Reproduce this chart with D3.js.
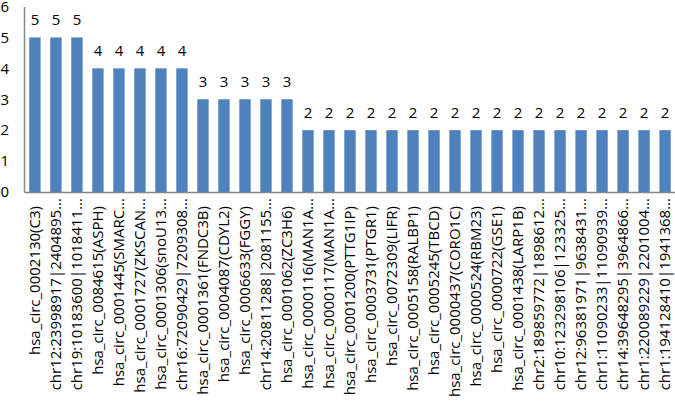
<!DOCTYPE html>
<html>
<head>
<meta charset="utf-8">
<script src="https://cdn.jsdelivr.net/npm/d3@7"></script>
<style>
  html, body { margin: 0; padding: 0; background: #fff; }
  svg { display: block; }
</style>
</head>
<body>
<svg id="chart" width="675" height="403"></svg>
<script>
const categories = [
  "hsa_circ_0002130(C3)",
  "chr12:23998917|2404895...",
  "chr19:10183600|1018411...",
  "hsa_circ_0084615(ASPH)",
  "hsa_circ_0001445(SMARC...",
  "hsa_circ_0001727(ZKSCAN...",
  "hsa_circ_0001306(snoU13...",
  "chr16:72090429|7209308...",
  "hsa_circ_0001361(FNDC3B)",
  "hsa_circ_0004087(CDYL2)",
  "hsa_circ_0006633(FGGY)",
  "chr14:20811288|2081155...",
  "hsa_circ_0001062(ZC3H6)",
  "hsa_circ_0000116(MAN1A...",
  "hsa_circ_0000117(MAN1A...",
  "hsa_circ_0001200(PTTG1IP)",
  "hsa_circ_0003731(PTGR1)",
  "hsa_circ_0072309(LIFR)",
  "hsa_circ_0005158(RALBP1)",
  "hsa_circ_0005245(TBCD)",
  "hsa_circ_0000437(CORO1C)",
  "hsa_circ_0000524(RBM23)",
  "hsa_circ_0000722(GSE1)",
  "hsa_circ_0001438(LARP1B)",
  "chr2:189859772|1898612...",
  "chr10:123298106|123325...",
  "chr12:96381971|9638431...",
  "chr1:11090233|11090939...",
  "chr14:39648295|3964866...",
  "chr1:220089229|2201004...",
  "chr1:194128410|1941368..."
];
const values = [5,5,5,4,4,4,4,4,3,3,3,3,3,2,2,2,2,2,2,2,2,2,2,2,2,2,2,2,2,2,2];
const yTicks = [0,1,2,3,4,5,6];

const svg = d3.select("#chart");
const font = "'Open Sans', sans-serif";

const x = d3.scaleBand().domain(categories).range([24, 676]).paddingInner(0.46).paddingOuter(0.25);
const y = d3.scaleLinear().domain([0, 6]).range([192, 6.5]);

// bars
svg.append("g").selectAll("rect").data(values).join("rect")
  .attr("x", (d, i) => x(categories[i]))
  .attr("y", d => y(d))
  .attr("width", x.bandwidth())
  .attr("height", d => y(0) - y(d))
  .attr("fill", "#4F81BD");

// value labels
svg.append("g").selectAll("text").data(values).join("text")
  .attr("x", (d, i) => x(categories[i]) + x.bandwidth() / 2)
  .attr("y", d => y(d) - 12)
  .attr("text-anchor", "middle")
  .attr("font-family", font)
  .attr("font-size", 15)
  .attr("fill", "#000")
  .text(d => d);

// y axis
const yAxis = d3.axisLeft(y).tickValues(yTicks).tickFormat(d3.format("d")).tickSize(0).tickPadding(15);
const gy = svg.append("g").attr("transform", "translate(24,0)").call(yAxis);
gy.select(".domain").attr("stroke", "#868686").attr("stroke-width", 1.5);
gy.selectAll("text").attr("font-family", font).attr("font-size", 15).attr("fill", "#000");

// x axis
const xAxis = d3.axisBottom(x).tickSize(0).tickFormat("");
const gx = svg.append("g").attr("transform", `translate(0,${y(0)})`).call(xAxis);
gx.select(".domain").attr("stroke", "#868686").attr("stroke-width", 1.5);

// x labels (rotated, reading upward, end aligned near the axis)
svg.append("g").selectAll("text").data(categories).join("text")
  .attr("transform", d => `translate(${x(d) + x.bandwidth() / 2},${d.endsWith("...") ? 198 : 206}) rotate(-90)`)
  .attr("dy", "0.35em")
  .attr("text-anchor", "end")
  .attr("font-family", font)
  .attr("font-size", 15)
  .attr("fill", "#000")
  .text(d => d);
</script>
</body>
</html>
